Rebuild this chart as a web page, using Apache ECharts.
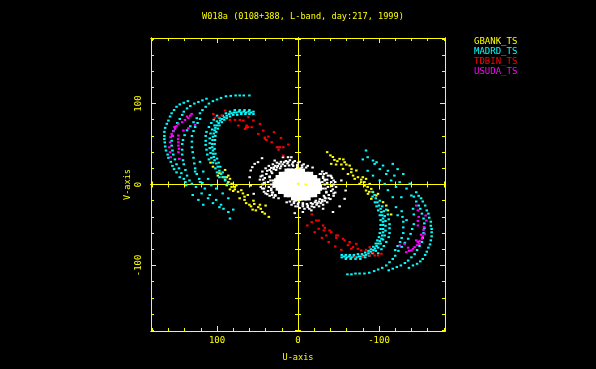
<!DOCTYPE html>
<html lang="en">
<head>
  <meta charset="UTF-8">
  <title>W018a uv coverage</title>
  <script src="https://cdn.jsdelivr.net/npm/echarts@6/dist/echarts.min.js"></script>
  <style>
    html, body { margin: 0; padding: 0; background: #000; }
    #chart { width: 596px; height: 369px; }
  </style>
</head>
<body>
  <div id="chart"></div>
  <script>
    // values, [u, v] in the plot's own units
    const titleText = 'W018a (0108+388, L-band, day:217, 1999)'
    const majorTicks = [-100, 0, 100]
    const minorTicks = [-180, -160, -140, -120, -80, -60, -40, -20, 20, 40, 60, 80, 120, 140, 160, 180]

    const gbank = [
      [-36, 40], [-40, 36], [-43, 34], [-45, 30.4], [-41, 25.5], [-48.6, 28.8], [-51.4, 31.7], [-47, 24.7], [-53.5, 24.7], [-57.6, 27.5],
      [-59.7, 24.7], [-55.6, 19.3], [-63.8, 23.4], [-65.8, 15.2], [-72, 17.3], [-68, 11], [-61.7, 13], [-74, 9], [-70, 7], [-80, 9],
      [-78, 2.9], [-84, 7], [-76, 0.8], [-82.3, -1.3], [-88.5, 0.8], [-84, -7.4], [-90.5, -5.4], [-86.4, -11.5], [-92.6, -9.5], [-96.7, -13.6],
      [-90.5, -17.7], [-98.8, -11.5], [-105, -21.8], [-109, -26], [-111, -32], [-115, -37], [-0.3, 0.8], [-9.6, 0],
      [-78, 6], [-82, 3], [-86, -3], [-88, -9], [-66, 19], [-56, 31],
      [36, -40], [41, -36], [44, -34], [46, -30], [40, -26], [49, -28], [52, -32], [47, -25], [54, -24], [58, -27],
      [60, -25], [55, -20], [64, -23], [66, -15], [72, -17], [68, -11], [62, -13], [74, -9], [70, -7], [80, -8],
      [78, -3], [84, -6], [76, -1], [82, 1], [88, -1], [84, 7], [90, 6], [86, 11], [93, 9], [97, 14],
      [90, 18], [99, 11], [105, 22], [108, 27], [78, -6], [82, -3], [86, 3], [88, 9], [66, -19], [56, -31]
    ]

    const madrd = [
      // upper left
      [136, 103], [141, 101], [146, 99], [150, 96], [153, 92], [156, 88], [158, 84], [160, 79], [162, 75], [164, 70], [165, 65], [165, 60], [165, 56], [164.5, 52], [164, 47], [163, 42], [161, 37], [160, 33], [157, 28], [155, 23], [153, 19], [150, 15], [146, 9], [138, -1], [130, -13], [123, -19], [117, -25],
      [113, 106], [118, 104], [123, 102], [128, 100], [133, 97], [137, 94], [141, 90], [143, 86], [146, 81], [149, 76], [152, 71], [154, 66], [155, 60], [156, 54], [156, 48], [155, 42], [154, 37], [152, 31], [150, 25], [147, 20], [144, 14], [141, 7], [139, 3], [134, 5], [126, -3], [119, -11], [111, -17], [105, -23], [97, -28], [92, -30], [84, -42],
      [60, 110], [67, 110], [72, 110], [77, 110], [83, 109.5], [89, 109], [95, 107], [100, 105], [105, 103], [110, 100], [114, 96], [118, 92], [121, 88], [125, 82], [129, 77], [133, 72], [137, 67], [140, 61], [142, 55], [143, 50], [143, 43], [143, 37], [142, 30], [141, 25], [139, 18], [137, 11], [131, 1], [127, 16], [121, 3], [115, -5], [109, -13], [101, -19], [95, -25], [86, -34], [80, -31],
      [121, 81], [124, 76], [127, 71], [129, 66], [131, 60], [131, 53], [131, 46], [130, 40], [129, 33], [128, 26], [127, 20], [125, 13], [122, 7], [118, 2], [121, 28], [117, 16], [111, 7], [107, -1], [101, -5], [93, -11], [86, -17],
      [55, 90], [58, 89], [61, 90], [64, 89], [67, 90], [70, 89], [73, 90], [76, 89], [79, 89], [82, 88], [85, 87], [88, 85], [91, 83], [94, 81], [96, 79], [98, 76], [100, 73], [102, 70], [103, 67], [104, 63], [105, 59], [105.5, 55], [106, 50], [106, 46], [105, 42], [105, 38], [104, 34], [103, 30], [101, 26], [99, 22], [97, 17], [95, 13], [92, 9], [90, 5], [87, 1],
      [55, 87], [60, 87], [65, 87], [70, 87], [75, 86], [80, 86], [84, 84], [88, 82], [91, 80], [94, 77], [97, 73], [99, 69], [101, 65], [102, 60], [102.5, 55], [103, 50], [103, 44], [102, 38], [100, 32], [98, 27], [96, 22], [93, 15], [90, 9],
      [60, 92], [66, 92], [72, 92], [78, 92], [84, 90], [89, 88], [93, 85], [97, 82], [100, 78], [103, 73], [106, 68], [108, 63], [109, 57], [109, 51], [109, 45], [108, 39], [107, 33], [105, 27], [102, 20], [100, 15], [97, 9],
      [100, 85], [104, 80], [107, 76], [110, 71], [113, 65], [114, 60], [114, 54], [114, 49], [113, 43], [112, 37], [110, 31],
      // lower right
      [-137, -103], [-142, -100], [-147, -98], [-151, -95], [-154, -92], [-157, -87], [-159, -83], [-161, -78], [-163, -74], [-164, -69], [-165, -64], [-165, -59], [-165, -55], [-164, -51], [-164, -46], [-162, -41], [-161, -36], [-159, -32], [-157, -26], [-154, -21], [-152, -17], [-149, -14], [-146, -9.5], [-138, 1], [-130, 13], [-123, 19], [-117, 25.5],
      [-112, -106], [-117, -104], [-122, -102], [-127, -100], [-132, -97], [-136, -94], [-140, -90], [-144, -86], [-147, -81], [-150, -76], [-153, -71], [-154, -66], [-155, -60], [-156, -54], [-156, -48], [-155, -42], [-153, -36], [-151, -30], [-149, -26], [-146, -21], [-143, -15], [-140, -13.6], [-134, -5], [-125.5, 2.9], [-119, 11], [-111, 17], [-105, 23.4], [-97, 27.5], [-92.6, 29.6], [-84, 42],
      [-61, -111], [-66, -111], [-71, -110], [-76, -110], [-82, -110], [-88, -109], [-94, -107], [-99, -105], [-104, -103], [-109, -100], [-113, -96], [-117, -92], [-120, -88], [-124, -82], [-128, -77], [-132, -72], [-136, -67], [-139, -61], [-141, -55], [-143, -49], [-134, -44], [-143, -37], [-142, -30], [-127.6, -15.7], [-121, -3], [-115, 5], [-109, 13], [-101, 19], [-94.6, 25.5], [-86, 33.7], [-80, 31],
      [-120, -81], [-123, -76], [-126, -71], [-128, -66], [-130, -60], [-130, -53], [-130, -46], [-129, -40], [-128, -33], [-123, -38], [-121, -28], [-117, -15.7], [-111, -7], [-107, 0.8], [-101, 5], [-92.6, 11], [-86, 17],
      [-54, -90], [-57, -89], [-60, -90], [-63, -89], [-66, -90], [-69, -89], [-72, -90], [-75, -89], [-78, -89], [-81, -88], [-84, -87], [-87, -85], [-90, -83], [-93, -81], [-95, -79], [-97, -76], [-99, -73], [-101, -70], [-103, -67], [-104, -63], [-105, -59], [-105, -55], [-105, -50], [-105, -46], [-105, -42], [-104, -38], [-103, -34], [-102, -30], [-100, -26], [-98, -22], [-96, -17], [-94.6, -13], [-92, -9],
      [-54, -87], [-59, -87], [-64, -87], [-69, -87], [-74, -86], [-79, -86], [-83, -84], [-87, -82], [-90, -80], [-93, -77], [-96, -73], [-98, -69], [-100, -65], [-101, -60], [-102, -55], [-102, -50], [-102, -44], [-101, -38], [-99, -32], [-97, -27], [-95, -22], [-92, -15],
      [-59, -92], [-65, -92], [-71, -92], [-77, -92], [-83, -90], [-88, -88], [-92, -85], [-96, -82], [-99, -78], [-102, -73], [-105, -68], [-107, -63], [-108, -57], [-108, -51], [-108, -45], [-107, -39], [-106, -33], [-104, -27], [-101, -20],
      [-99, -85], [-103, -80], [-106, -76], [-109, -71], [-112, -65], [-113, -60], [-113, -54], [-113, -49], [-112, -43], [-111, -37], [-109, -31]
    ]

    const tdbin = [
      [104.5, 87.2], [102.5, 82.3], [98.3, 83.1], [90, 91.3], [94.2, 85.2], [84, 79.8], [77.8, 79.8], [71.6, 79.8], [67.5, 79], [63.4, 72.8],
      [57.2, 70.8], [55.1, 79], [49, 62.5], [42.8, 66.6], [40.7, 56.4], [36.6, 59.2], [32.5, 52.2], [29.6, 64.6], [24.3, 46], [18.1, 46],
      [11.9, 49.4], [18.1, 35.8], [21, 57.6], [46.9, 74.9], [61.3, 83.1], [65.4, 68.7], [73.6, 72.8], [64, 70.5], [62, 71], [41, 58], [39, 55], [26, 46], [22, 46], [24, 43],
      [-17, -37], [-17, -46.5], [-11.5, -50.6], [-22.6, -44.5], [-25.5, -44.5], [-20.6, -58.9], [-31, -50.6], [-33, -53.5], [-25.5, -54.7], [-32, -56.8],
      [-39, -56.8], [-41, -58.9], [-29.6, -65.9], [-35, -63], [-47.3, -63], [-49.4, -63], [-47.3, -65.9], [-37.9, -71], [-46, -76.6], [-55.6, -67],
      [-57.6, -69], [-63.8, -71], [-61.7, -75], [-53.5, -80.7], [-67.9, -77.4], [-72, -73.3], [-74, -79.4], [-65.8, -79.4], [-78, -81.5], [-84, -80.7],
      [-88.5, -77.4], [-92.6, -83.6], [-94.6, -87.7], [-98.8, -87.7], [-103, -85.6], [-88.5, -87.7], [-80, -89.7], [-70, -89.7]
    ]

    const usuda = [
      [131.3, 87.2], [135.4, 82.3], [139.5, 79.8], [143, 77], [147.7, 74.9], [150, 72], [151.8, 68.7], [153.9, 65.8], [156, 62.5], [157.2, 58.4], [155, 60], [158, 52.2], [158.8, 46], [158, 39.9], [157.2, 33.7],
      [147.7, 60.5], [147.7, 52.2], [147.7, 48.1], [147.7, 39.9], [146.5, 31.7], [141.5, 66.7], [135.4, 69.5], [127.1, 73.6], [133, 85], [148, 56], [147, 44], [137, 84], [152, 71],
      [-146, -26], [-148, -32], [-149, -40], [-148, -50.6], [-155.5, -52.7], [-156.4, -60.9], [-153, -67], [-150, -73.3], [-144, -77.4], [-140, -81.5], [-133.7, -83.6], [-142, -79.4],
      [-125.5, -75.3], [-131.7, -73.3], [-146, -69], [-157.6, -38.3], [-158.4, -44.5], [-155, -56], [-154, -64], [-148, -71], [-147, -75], [-137, -82], [-150, -70], [-152, -62], [-148, -45], [-136, -78]
    ]

    // short baselines around the origin
    const centreRings = [
      [44.4, 32.5], [49.4, 27.6], [53.5, 25.5], [56.4, 21.4], [58.4, 17.3], [59.7, 9], [58.4, -1.2], [54.7, -11.5], [28.8, 29.6], [18.5, 33.7], [12.3, 33.7], [8.2, 33.7],
      [-43.2, -34], [-51.4, -27], [-57.6, -17.7], [-58.8, -7.4], [-53.5, 5], [-41, 10], [4, -35.4], [-6, -34], [-16.5, -32], [-31, -30],
      [47, 6], [46, 10], [44, 16], [40, 20], [36, 23], [31, 25], [26, 27], [21, 28], [15, 29], [10, 30], [4, 29], [-2, 28], [-7, 25], [-12, 23], [-18, 21], [46, -3], [42, -9], [38, -12], [32, -13],
      [-47, -3], [-46, -10], [-44, -14], [-40, -18], [-36, -22], [-31, -25], [-26, -27], [-20, -28], [-14, -30], [-8, -30], [-2, -29], [3, -27], [8, -25], [14, -22], [-46, 3], [-42, 8], [-37, 11], [-32, 13],
      [42, 2], [41, 8], [39, 13], [35, 18], [30, 21], [25, 23], [19, 25], [13, 26], [7, 25], [1, 24], [-5, 21], [42, -5], [37, -8], [32, -10], [28, -14],
      [-42, -2], [-41, -8], [-38, -13], [-34, -17], [-30, -21], [-24, -23], [-18, -24], [-12, -26], [-6, -25], [0, -24], [5, -21], [-41, 3], [-36, 6], [-31, 8], [-27, 13],
      [37, 3], [35, 9], [32, 14], [27, 18], [22, 20], [36, -3], [33, -7], [-37, -3], [-35, -9], [-32, -14], [-27, -18], [-22, -20], [-36, 2], [-33, 6],
      [33, 16], [30, 19], [26, 21], [21, 22.5], [16, 23], [11, 23.5], [6, 23], [1, 21.5], [-3, 20], [35, 10], [34, 5], [33, 0], [33, -5], [31, -10], [28, -13],
      [44, 11], [43, 6], [44, 0], [44, -5], [40, -11], [35, -14], [30, -16], [24, -17], [38, 17], [33, 20.5], [28, 23], [23, 25.5], [17, 27.5], [12, 28], [6, 27.5], [0, 27], [-5, 23.5], [-10, 21], [31, 5], [30, -3],
      [-33, -16], [-30, -19], [-26, -21], [-21, -22], [-16, -23], [-11, -24], [-6, -23], [-1, -22], [3, -20], [-35, -10], [-34, -5], [-33, 0], [-33, 5], [-31, 10], [-28, 13],
      [-44, -11], [-43, -6], [-44, 0], [-44, 5], [-40, 11], [-35, 14], [-30, 16], [-38, -17], [-33, -20], [-28, -23], [-23, -25], [-17, -27], [-12, -28], [-6, -27], [0, -27], [5, -23], [10, -21], [-31, -5], [-30, 3]
    ]
    const centreCore = [
      [-5, 16], [0, 16], [5, 16], [10, 16], [13, 16],
      [-15, 12], [-10, 12], [-5, 12], [0, 12], [5, 12], [10, 12], [15, 12], [20, 12],
      [-20, 8], [-15, 8], [-10, 8], [-5, 8], [0, 8], [5, 8], [10, 8], [15, 8], [20, 8], [24, 8],
      [-24, 4], [-19, 4], [-14, 4], [-9, 4], [-4, 4], [1, 4], [6, 4], [11, 4], [16, 4], [21, 4], [26, 4],
      [-25, 0], [-20, 0], [-15, 0], [-10, 0], [-5, 0], [0, 0], [5, 0], [10, 0], [15, 0], [20, 0], [25, 0], [28, 0],
      [-26, -4], [-21, -4], [-16, -4], [-11, -4], [-6, -4], [-1, -4], [4, -4], [9, -4], [14, -4], [19, -4], [24, -4],
      [-24, -8], [-19, -8], [-14, -8], [-9, -8], [-4, -8], [1, -8], [6, -8], [11, -8], [16, -8], [21, -8],
      [-20, -12], [-15, -12], [-10, -12], [-5, -12], [0, -12], [5, -12], [10, -12], [14, -12],
      [-12, -16], [-7, -16], [-2, -16], [5, -16]
    ]

    const yellow = '#ffff00'
    const legendNames = ['GBANK_TS', 'MADRD_TS', 'TDBIN_TS', 'USUDA_TS']
    const legendColors = ['#ffff00', '#00ffff', '#ff0000', '#ff00ff']
    const font = 'DejaVu Sans Mono'

    let chart = echarts.init(document.getElementById('chart'), null, { renderer: 'canvas' })

    // one axis per tick set: frame sides plus the two lines through zero
    function makeAxes(dim, extent, name, labelRotate) {
      const low = dim === 'x' ? 'bottom' : 'left'
      const high = dim === 'x' ? 'top' : 'right'
      const sets = [
        { position: low, values: majorTicks, length: 5, inside: true, first: true },
        { position: low, values: minorTicks, length: 3, inside: true },
        { position: high, values: majorTicks, length: 5, inside: true },
        { position: high, values: minorTicks, length: 3, inside: true },
        { position: low, onZero: true, values: majorTicks, length: 5, inside: true },
        { position: low, onZero: true, values: majorTicks, length: 5, inside: false },
        { position: low, onZero: true, values: minorTicks, length: 3, inside: true },
        { position: low, onZero: true, values: minorTicks, length: 3, inside: false }
      ]
      return sets.map(s => ({
        type: 'value',
        inverse: dim === 'x',
        min: -extent,
        max: extent,
        position: s.position,
        splitLine: { show: false },
        axisLine: { show: true, onZero: !!s.onZero, lineStyle: { color: yellow, width: 1 } },
        axisTick: { show: true, inside: s.inside, length: s.length, customValues: s.values, lineStyle: { color: yellow, width: 1 } },
        axisLabel: {
          show: !!s.first,
          customValues: majorTicks,
          color: yellow,
          fontFamily: font,
          fontSize: 9,
          rotate: labelRotate,
          margin: dim === 'x' ? 5 : 8
        },
        name: s.first ? name : '',
        nameLocation: 'middle',
        nameGap: dim === 'x' ? 22 : 19,
        nameRotate: labelRotate,
        nameTextStyle: { color: yellow, fontFamily: font, fontSize: 8.6 }
      }))
    }

    function dots(name, data, color, size) {
      return {
        name: name,
        type: 'scatter',
        data: data,
        symbol: 'rect',
        symbolSize: size || [2.5, 2],
        itemStyle: { color: color, opacity: 1 },
        silent: true,
        large: false
      }
    }

    let option = {
      backgroundColor: '#000000',
      animation: false,
      title: {
        text: titleText,
        left: 298,
        top: 7,
        textAlign: 'center',
        textStyle: { color: yellow, fontFamily: font, fontSize: 8.6, fontWeight: 'normal' }
      },
      legend: {
        orient: 'vertical',
        left: 469,
        top: 36,
        padding: 0,
        itemGap: 0.6,
        itemWidth: 0,
        itemHeight: 10.4,
        selectedMode: false,
        data: legendNames.map((n, i) => ({ name: n, icon: 'none', textStyle: { color: legendColors[i], fontFamily: font, fontSize: 9 } }))
      },
      grid: { left: 151, top: 38, width: 294, height: 293 },
      xAxis: makeAxes('x', 181.5, 'U-axis', 0),
      yAxis: makeAxes('y', 181, 'V-axis', 90),
      series: [
        dots('short', centreRings, '#ffffff'),
        dots('core', centreCore, '#ffffff', 6),
        dots(legendNames[0], gbank, legendColors[0]),
        dots(legendNames[1], madrd, legendColors[1]),
        dots(legendNames[2], tdbin, legendColors[2]),
        dots(legendNames[3], usuda, legendColors[3])
      ]
    }

    chart.setOption(option)
  </script>
</body>
</html>
